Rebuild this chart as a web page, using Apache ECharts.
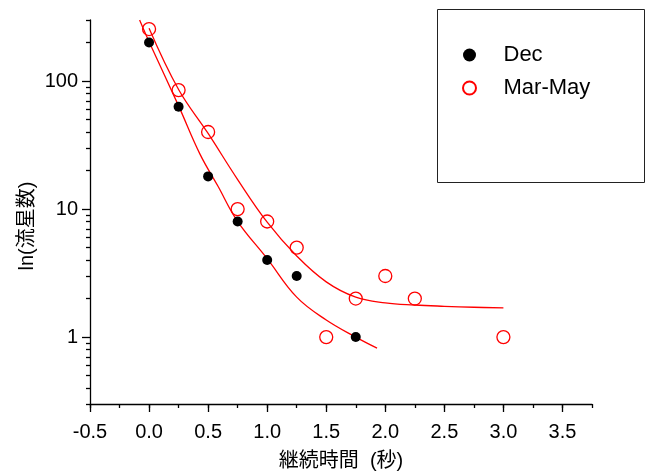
<!DOCTYPE html>
<html>
<head>
<meta charset="utf-8">
<script src="https://cdn.jsdelivr.net/npm/echarts@6/dist/echarts.min.js"></script>
<style>
html,body{margin:0;padding:0;background:#fff;}
#chart{width:648px;height:471px;}
</style>
</head>
<body>
<div id="chart"></div>
<script>
// ---- data ----
const decX = [0.0, 0.25, 0.5, 0.75, 1.0, 1.25, 1.75];
const decY = [200, 63, 18, 8, 4, 3, 1];
const marX = [0.0, 0.25, 0.5, 0.75, 1.0, 1.25, 1.5, 1.75, 2.0, 2.25, 3.0];
const marY = [255, 85, 40, 10, 8, 5, 1, 2, 3, 2, 1];
// fitted curves
const fitDecX = [-0.08, 0.0, 0.25, 0.43, 0.585, 0.746, 1.0, 1.25, 1.5, 1.75, 1.93];
const fitDecY = [300, 203, 64, 27, 15, 8.1, 4.1, 2.05, 1.36, 1.0, 0.82];
const fitMarX = [0.0, 0.25, 0.5, 0.75, 1.0, 1.25, 1.5, 1.75, 2.0, 2.25, 2.5, 2.75, 3.0];
const fitMarY = [259, 86, 39, 17, 7.9, 4.3, 2.7, 2.05, 1.85, 1.78, 1.74, 1.71, 1.69];
// axis ticks
const xMajorTicks = [-0.5, 0.0, 0.5, 1.0, 1.5, 2.0, 2.5, 3.0, 3.5];
const yMajorTicks = [1, 10, 100];
const yMinorTicks = [0.3, 0.4, 0.5, 0.6, 0.7, 0.8, 0.9, 2, 3, 4, 5, 6, 7, 8, 9,
                     20, 30, 40, 50, 60, 70, 80, 90, 200, 300];
const seriesNames = ['Dec', 'Mar-May'];

const zip = (a, b) => a.map((v, i) => [v, b[i]]);
const FONT = '"Liberation Sans", Arial, sans-serif';
const CJK = '"Liberation Sans", "Noto Sans CJK JP", sans-serif';

const chart = echarts.init(document.getElementById('chart'), null, {renderer: 'canvas'});
const axisLineStyle = {color: '#000', width: 1.3};

chart.setOption({
  backgroundColor: '#fff',
  animation: false,
  grid: {left: 90, right: 56, top: 20, bottom: 67, containLabel: false, outerBoundsMode: 'none'},
  graphic: [{
    type: 'rect', left: 435, top: 7,
    shape: {width: 207, height: 173},
    style: {fill: 'none', stroke: '#222', lineWidth: 1}
  }],
  legend: {
    data: seriesNames,
    orient: 'vertical',
    left: 462, top: 44,
    padding: 0,
    itemWidth: 58, itemHeight: 13,
    itemGap: 11,
    textStyle: {fontFamily: FONT, fontSize: 22, color: '#000'}
  },
  xAxis: [{
    type: 'value', min: -0.5, max: 3.75, interval: 0.25,
    position: 'bottom',
    axisLine: {onZero: false, lineStyle: axisLineStyle},
    axisTick: {show: true, length: 4, lineStyle: axisLineStyle},
    splitLine: {show: false},
    axisLabel: {
      customValues: xMajorTicks, margin: 18, color: '#000',
      fontFamily: FONT, fontSize: 20,
      formatter: v => (Math.abs(v) < 1e-9 ? 0 : v).toFixed(1)
    },
    name: '継続時間  (秒)', nameLocation: 'middle', nameGap: 47, nameMoveOverlap: false,
    nameTextStyle: {fontFamily: CJK, fontSize: 20, color: '#000'}
  }, {
    type: 'value', min: -0.5, max: 3.75, position: 'bottom',
    axisLine: {show: false, onZero: false},
    axisTick: {show: true, length: 8, customValues: xMajorTicks, lineStyle: axisLineStyle},
    axisLabel: {show: false},
    splitLine: {show: false}
  }],
  yAxis: [{
    type: 'log', logBase: 10, min: 0.3, max: 300, position: 'left',
    axisLine: {show: true, onZero: false, lineStyle: axisLineStyle},
    axisTick: {show: true, length: 8, customValues: yMajorTicks, lineStyle: axisLineStyle},
    axisLabel: {customValues: yMajorTicks, margin: 12, color: '#000', fontFamily: FONT, fontSize: 20,
                formatter: v => String(Math.round(v))},
    splitLine: {show: false},
    name: 'ln(流星数)', nameLocation: 'middle', nameGap: 53, nameRotate: 90, nameMoveOverlap: false,
    nameTextStyle: {fontFamily: CJK, fontSize: 20, color: '#000', padding: [0, 28, 0, 0]}
  }, {
    type: 'log', logBase: 10, min: 0.3, max: 300, position: 'left',
    axisLine: {show: false, onZero: false},
    axisTick: {show: true, length: 4, customValues: yMinorTicks, lineStyle: axisLineStyle},
    axisLabel: {show: false},
    splitLine: {show: false}
  }],
  series: [{
    name: 'fitDec', type: 'line', smooth: 0.4, showSymbol: false, symbol: 'none',
    data: zip(fitDecX, fitDecY), z: 2, silent: true,
    lineStyle: {color: '#ff0000', width: 1.3}
  }, {
    name: 'fitMar', type: 'line', smooth: 0.4, showSymbol: false, symbol: 'none',
    data: zip(fitMarX, fitMarY), z: 2, silent: true,
    lineStyle: {color: '#ff0000', width: 1.3}
  }, {
    name: seriesNames[0], type: 'scatter', symbol: 'circle', symbolSize: 10, z: 5,
    data: zip(decX, decY),
    itemStyle: {color: '#000', opacity: 1}
  }, {
    name: seriesNames[1], type: 'scatter', symbol: 'circle', symbolSize: 13, z: 6,
    data: zip(marX, marY),
    itemStyle: {color: 'rgba(255,255,255,0)', borderColor: '#ff0000', borderWidth: 1.3, opacity: 1}
  }]
});
</script>
</body>
</html>
